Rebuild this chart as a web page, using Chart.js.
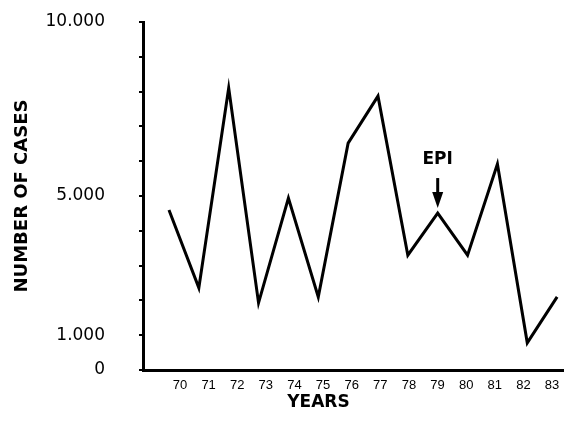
<!DOCTYPE html>
<html>
<head>
<meta charset="utf-8">
<script src="https://cdn.jsdelivr.net/npm/chart.js@4"></script>
<style>
  html, body { margin: 0; padding: 0; background: #fff; }
  #wrap { width: 564px; height: 435px; }
</style>
</head>
<body>
<div id="wrap"><canvas id="casesChart"></canvas></div>
<script>
// years (19xx) and reported cases
const years = [70, 71, 72, 73, 74, 75, 76, 77, 78, 79, 80, 81, 82, 83];
const cases = [4600, 2360, 8100, 1930, 4940, 2100, 6520, 7870, 3300, 4510, 3300, 5920, 780, 2100];
const labelledTicks = [0, 1000, 5000, 10000];
const epiYear = 79;

const SANS = "'Liberation Sans', Arial, sans-serif";
const WIDE = "'DejaVu Sans', sans-serif";

// "EPI" marker with arrow pointing down at the 1979 value, plus the x caption
const annotations = {
  id: "annotations",
  afterDatasetsDraw(chart) {
    const { ctx, scales, chartArea } = chart;
    const i = years.indexOf(epiYear);
    const px = scales.x.getPixelForValue(epiYear);
    const py = scales.y.getPixelForValue(cases[i]);
    ctx.save();
    ctx.fillStyle = "#000";
    ctx.strokeStyle = "#000";
    ctx.font = "bold 17px " + WIDE;
    ctx.textAlign = "center";
    ctx.textBaseline = "middle";
    ctx.fillText("EPI", px, py - 53);
    ctx.lineWidth = 3;
    ctx.beginPath();
    ctx.moveTo(px, py - 35);
    ctx.lineTo(px, py - 18);
    ctx.stroke();
    ctx.beginPath();
    ctx.moveTo(px - 5.5, py - 21);
    ctx.lineTo(px + 5.5, py - 21);
    ctx.lineTo(px, py - 5);
    ctx.closePath();
    ctx.fill();

    // x caption sits left of the plot centre in the original
    ctx.fillText("YEARS", (chartArea.left + chartArea.right) / 2 - 35, 403);
    ctx.restore();
  },
};

new Chart(document.getElementById("casesChart"), {
  type: "line",
  data: {
    datasets: [
      {
        data: years.map((y, i) => ({ x: y, y: cases[i] })),
        borderColor: "#000",
        borderWidth: 3,
        pointRadius: 0,
        tension: 0,
        fill: false,
      },
    ],
  },
  options: {
    responsive: true,
    maintainAspectRatio: false,
    animation: false,
    layout: { padding: { top: 22, right: 0, left: 0, bottom: 0 } },
    plugins: { legend: { display: false }, tooltip: { enabled: false } },
    scales: {
      // data axis (hidden); the printed year labels are spaced a bit tighter
      x: {
        type: "linear",
        display: false,
        min: 69.13,
        max: 83.23,
      },
      years: {
        type: "linear",
        position: "bottom",
        min: 68.707,
        max: 83.419,
        afterBuildTicks(scale) {
          scale.ticks = years.map((v) => ({ value: v }));
        },
        afterFit(scale) {
          scale.height = 65;
          scale.paddingLeft = 0;
          scale.paddingRight = 0;
        },
        border: { display: true, color: "#000", width: 3 },
        grid: { display: false },
        ticks: {
          color: "#000",
          font: { family: SANS, size: 13 },
          padding: 0,
          maxRotation: 0,
          autoSkip: false,
          callback: (v) => String(v),
        },
      },
      y: {
        min: 0,
        max: 10000,
        afterFit(scale) {
          scale.width = 143;
          scale.paddingTop = 0;
          scale.paddingBottom = 0;
        },
        border: { display: true, color: "#000", width: 3 },
        grid: {
          display: true,
          drawOnChartArea: false,
          drawTicks: true,
          tickLength: 4,
          color: "#000",
          lineWidth: 2,
        },
        ticks: {
          stepSize: 1000,
          color: "#000",
          font: { family: WIDE, size: 17 },
          padding: 34,
          callback: (v) =>
            labelledTicks.includes(v) ? v.toLocaleString("de-DE") : "",
        },
        title: {
          display: true,
          text: "NUMBER OF CASES",
          color: "#000",
          font: { family: WIDE, size: 18, weight: "bold" },
          padding: { top: 12, bottom: 0 },
        },
      },
    },
  },
  plugins: [annotations],
});
</script>
</body>
</html>
